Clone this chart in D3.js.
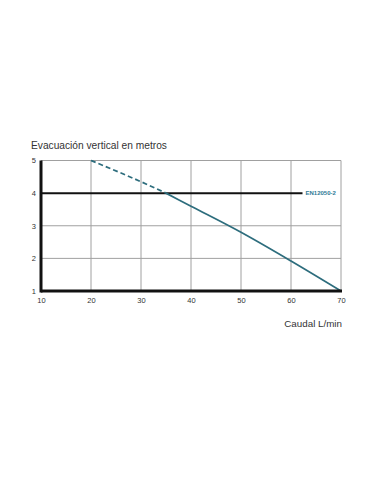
<!DOCTYPE html>
<html><head><meta charset="utf-8">
<script src="https://cdn.jsdelivr.net/npm/d3@7"></script>
<style>body{margin:0;background:#fff}</style>
</head><body>
<script>
const xTicks = [10, 20, 30, 40, 50, 60, 70];
const yTicks = [1, 2, 3, 4, 5];
const dashedCurve = [[20, 5], [30, 4.35], [35, 4.0]];
const solidCurve = [[35, 4.0], [40, 3.6], [50, 2.8], [60, 1.92], [70, 1]];
const refLevel = 4;
const refLabel = "EN12050-2";
const refEndX = 62.3;
const title = "Evacuación vertical en metros";
const xTitle = "Caudal L/min";

const W = 381, H = 492;
const svg = d3.select("body").append("svg").attr("width", W).attr("height", H);
const x = d3.scaleLinear().domain([10, 70]).range([41, 341]);
const y = d3.scaleLinear().domain([1, 5]).range([291, 160.5]);
const font = "Arial, 'Liberation Sans', sans-serif";

// grid
const g = svg.append("g");
g.selectAll("line.v").data(xTicks.slice(1)).enter().append("line")
  .attr("x1", d => x(d)).attr("x2", d => x(d)).attr("y1", y(5)).attr("y2", y(1))
  .attr("stroke", "#a0a0a0").attr("stroke-width", 1);
g.selectAll("line.h").data(yTicks.filter(d => d !== 1 && d !== refLevel)).enter().append("line")
  .attr("x1", x(10)).attr("x2", x(70)).attr("y1", d => y(d)).attr("y2", d => y(d))
  .attr("stroke", "#a0a0a0").attr("stroke-width", 1);

// axes via d3
const xAxis = d3.axisBottom(x).tickValues(xTicks).tickFormat(d3.format("d")).tickSize(0).tickPadding(7);
const yAxis = d3.axisLeft(y).tickValues(yTicks).tickFormat(d3.format("d")).tickSize(0).tickPadding(5);
const gx = svg.append("g").attr("transform", `translate(0,${y(1)})`).call(xAxis);
const gy = svg.append("g").attr("transform", `translate(${x(10)},0)`).call(yAxis);
[gx, gy].forEach(a => {
  a.select(".domain").remove();
  a.selectAll("text").attr("font-family", font).attr("font-size", 7.5).attr("fill", "#333");
});

// reference line
svg.append("line").attr("x1", x(10)).attr("x2", x(refEndX)).attr("y1", y(refLevel)).attr("y2", y(refLevel))
  .attr("stroke", "#111").attr("stroke-width", 2);
svg.append("text").attr("x", x(refEndX) + 3).attr("y", y(refLevel) + 2.3)
  .attr("font-family", font).attr("font-size", 6).attr("font-weight", "bold")
  .attr("fill", "#2f7a96").text(refLabel);

// curves
const line = d3.line().x(d => x(d[0])).y(d => y(d[1])).curve(d3.curveMonotoneX);
svg.append("path").datum(dashedCurve).attr("d", line).attr("fill", "none")
  .attr("stroke", "#2d6d7d").attr("stroke-width", 1.7).attr("stroke-dasharray", "5,3");
svg.append("path").datum(solidCurve).attr("d", line).attr("fill", "none")
  .attr("stroke", "#2d6d7d").attr("stroke-width", 1.7);

// axis lines
svg.append("line").attr("x1", x(10)).attr("x2", x(10)).attr("y1", y(5)).attr("y2", y(1) + 1.5)
  .attr("stroke", "#111").attr("stroke-width", 3);
svg.append("line").attr("x1", x(10)).attr("x2", x(70) + 1).attr("y1", y(1)).attr("y2", y(1))
  .attr("stroke", "#111").attr("stroke-width", 3);

// titles
svg.append("text").attr("x", 31).attr("y", 149).attr("font-family", font).attr("font-size", 10.2)
  .attr("fill", "#333").text(title);
svg.append("text").attr("x", 342).attr("y", 327).attr("text-anchor", "end").attr("font-family", font)
  .attr("font-size", 9.8).attr("fill", "#333").text(xTitle);
</script>
</body></html>
